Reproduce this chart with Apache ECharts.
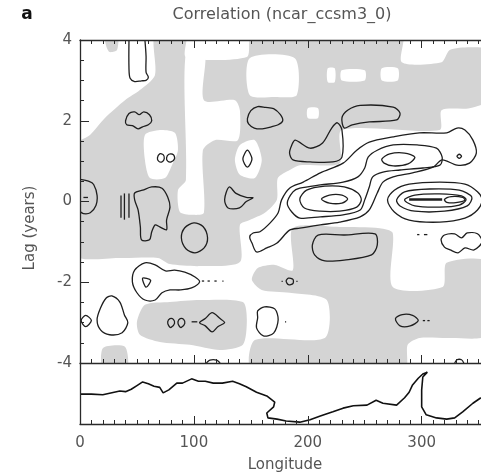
<!DOCTYPE html>
<html><head><meta charset="utf-8">
<script src="https://cdn.jsdelivr.net/npm/echarts@6/dist/echarts.min.js"></script>
<style>html,body{margin:0;padding:0;background:#fff}#c{width:481px;height:475px}</style>
</head><body><div id="c"></div>
<script>
// ---- data ----
const lonTicks = [0, 100, 200, 300];
const lagTicks = [-4, -2, 0, 2, 4];

// shaded (negative correlation) regions, [lon, lag]
const greyRegions = [
  [[22,4.15],[33,4.15],[32.5,3.75],[26,3.7],[23,3.85]],
  [[65.8,4.15],[93,4.15],[93,3.58],[146.5,3.58],[150.9,4.15],[282.5,4.15],[282.5,3.45],[317.5,3.45],[324.6,3.75],[342,3.82],[358,3.75],[358,2.51],[342,2.31],[317.5,2.26],[315.8,1.77],[229.8,1.77],[228,0.95],[193,0.9],[184.2,0.78],[173.7,0.58],[172.8,0.04],[162.3,-0.28],[149,-0.46],[140.4,-0.58],[140.4,-1.5],[105.3,-1.6],[78.9,-1.55],[68.4,-1.4],[35.1,-1.4],[-4,-1.32],[-4,1.4],[8.8,1.65],[21.9,2.07],[39.5,2.51],[52.6,2.76],[65.8,3.13]],
  [[186.8,-0.66],[228,-0.63],[263.2,-0.66],[274.6,-0.78],[274.6,-2.12],[318.4,-2.12],[321.9,-1.52],[358,-1.5],[358,-3.3],[324.6,-3.38],[298.2,-3.38],[287.7,-3.55],[285,-4.15],[150.9,-4.15],[153.5,-3.43],[214.9,-3.38],[216.7,-2.44],[184.2,-2.26],[159.6,-2.19],[150.9,-1.94],[156.1,-1.65],[171,-1.57],[186.8,-1.7]],
  [[50,-2.98],[57,-2.56],[78.9,-2.49],[105.3,-2.44],[143,-2.49],[146.5,-2.93],[143,-3.55],[122.8,-3.68],[96.5,-3.55],[70.2,-3.48],[52.6,-3.3]],
  [[20.2,-3.63],[39.5,-3.6],[41.2,-4.15],[20.2,-4.15]]
];
// unshaded gaps inside shaded regions
const clearRegions = [
  [[93,3.7],[109.6,3.7],[108.8,2.51],[136,2.51],[140.4,2.26],[138.6,1.52],[118.4,1.52],[107.9,1.27],[108.8,-0.28],[98.2,-0.33],[87.7,-0.26],[86,0.28],[93,0.53]],
  [[57,1.65],[70.2,1.77],[83.3,1.7],[86,1.27],[80.7,0.9],[74.6,0.58],[61.4,0.58],[57,1.03]],
  [[140.4,1.4],[153.5,1.52],[159.6,1.03],[153.5,0.58],[140.4,0.66],[136,1.03]],
  [[149,3.55],[188.6,3.55],[190.4,2.64],[171,2.59],[149,2.64]],
  [[217.5,3.3],[223.7,3.3],[223.7,2.96],[217.5,2.96]],
  [[229.8,3.25],[250,3.25],[250,3.0],[229.8,3.0]],
  [[265,3.3],[279,3.3],[279,3.0],[265,3.0]],
  [[200,2.31],[209,2.31],[209,2.07],[200,2.07]]
];
// closed correlation contours
const closedContours = [
  [[40,2.0],[43,2.18],[48,2.22],[52,2.15],[56,2.22],[61,2.15],[63,2.0],[60,1.9],[55,1.85],[51,1.8],[46,1.88],[41,1.9]],
  [[147,2.05],[150,2.25],[156,2.35],[163,2.33],[170,2.3],[176,2.15],[178,2.0],[174,1.9],[168,1.85],[160,1.8],[153,1.82],[148,1.92]],
  [[186,1.40],[189,1.52],[202,1.32],[213,1.45],[221,1.82],[226,1.95],[230,1.77],[230,1.1],[222,0.98],[202,0.98],[187,1.03],[184,1.2]],
  [[235,2.26],[246,2.38],[275,2.34],[281,2.19],[278,2.02],[254,1.97],[239,1.90],[232,1.82],[230,2.07]],
  [[68,1.08],[70,1.18],[73,1.16],[74,1.06],[72,0.98],[69,1.0]],
  [[76,1.08],[78,1.17],[82,1.16],[83,1.06],[80,0.98],[77,1.0]],
  [[143,1.05],[147,1.27],[151,1.05],[147,0.85]],
  [[48,0.21],[55,0.28],[63,0.36],[72,0.33],[77,0.11],[79,-0.14],[76,-0.46],[76,-0.7],[70,-0.63],[66,-0.58],[63,-0.75],[61,-0.95],[54,-0.95],[53,-0.63],[51,-0.21],[48,0.04]],
  [[131,0.36],[137,0.2],[146,0.1],[152,0.09],[146,0.0],[140,-0.16],[130,-0.16],[127,0.05]],
  [[89,-0.9],[92,-0.65],[100,-0.53],[108,-0.62],[112,-0.9],[109,-1.15],[101,-1.27],[93,-1.17]],
  [[149,-0.88],[152,-0.78],[158,-0.75],[167,-0.53],[174,-0.28],[177,0.04],[184,0.33],[196,0.48],[211,0.71],[231,0.95],[243,1.27],[254,1.47],[275,1.6],[298,1.7],[322,1.7],[331,1.82],[338,1.77],[345,1.52],[348,1.2],[342,0.95],[331,0.9],[318,1.03],[310,0.85],[292,0.71],[275,0.61],[266,0.48],[261,0.21],[254,-0.21],[246,-0.38],[228,-0.51],[211,-0.58],[193,-0.66],[184,-0.71],[173,-1.03],[164,-1.15],[155,-1.25],[151,-1.03]],
  [[193,0.33],[211,0.41],[231,0.48],[244,0.61],[250,0.83],[253,1.1],[261,1.27],[275,1.4],[296,1.4],[313,1.32],[318,1.1],[316,0.9],[301,0.83],[281,0.78],[266,0.73],[257,0.61],[254,0.36],[250,0.04],[246,-0.21],[231,-0.33],[211,-0.38],[193,-0.41],[186,-0.26],[182,-0.04],[187,0.24]],
  [[265,1.05],[272,1.18],[285,1.2],[294,1.1],[288,0.93],[275,0.88],[267,0.95]],
  [[193,0.06],[199,0.28],[215,0.38],[232,0.36],[244,0.21],[247,0.04],[243,-0.14],[228,-0.24],[211,-0.24],[197,-0.16]],
  [[212,0.06],[219,0.16],[230,0.16],[235,0.06],[230,-0.04],[219,-0.04]],
  [[270,0.04],[276,0.28],[289,0.43],[316,0.48],[338,0.43],[349,0.24],[353,0.04],[349,-0.21],[338,-0.41],[316,-0.51],[289,-0.46],[276,-0.26]],
  [[278,0.04],[285,0.24],[307,0.31],[333,0.28],[344,0.11],[340,-0.11],[320,-0.24],[294,-0.24],[281,-0.11]],
  [[285,0.04],[294,0.16],[316,0.19],[335,0.14],[339,0.04],[333,-0.09],[316,-0.14],[294,-0.11]],
  [[320,0.05],[326,0.12],[336,0.1],[338,0.03],[330,-0.03],[322,-0.02]],
  [[331,1.12],[333,1.17],[335,1.12],[333,1.07]],
  [[209,-0.83],[232,-0.83],[259,-0.8],[261,-1.08],[256,-1.32],[232,-1.45],[215,-1.47],[206,-1.32],[204,-1.08]],
  [[317,-0.95],[320,-0.83],[329,-0.8],[335,-0.9],[340,-0.78],[349,-0.8],[353,-1.0],[346,-1.2],[338,-1.15],[332,-1.27],[325,-1.2],[320,-1.13]],
  [[181,-1.97],[183,-1.9],[187,-1.93],[187,-2.03],[183,-2.06]],
  [[46,-1.99],[48,-1.7],[57,-1.52],[66,-1.57],[75,-1.72],[83,-1.7],[92,-1.75],[101,-1.87],[105,-1.99],[98,-2.14],[88,-2.19],[79,-2.19],[72,-2.26],[66,-2.44],[57,-2.44],[50,-2.26]],
  [[55,-1.9],[62,-1.95],[58,-2.12]],
  [[28,-2.34],[35,-2.49],[39,-2.81],[42,-3.0],[37,-3.25],[26,-3.3],[18,-3.18],[15,-2.93],[18,-2.64],[23,-2.39]],
  [[1,-2.95],[5,-2.82],[10,-2.95],[5,-3.1]],
  [[77,-2.98],[79,-2.9],[82,-2.92],[83,-3.02],[80,-3.12],[78,-3.08]],
  [[86,-2.98],[88,-2.9],[91,-2.92],[92,-3.02],[89,-3.12],[87,-3.08]],
  [[105,-3.0],[110,-2.9],[116,-2.75],[123,-2.9],[127,-3.0],[121,-3.1],[116,-3.23],[110,-3.08]],
  [[156,-2.71],[162,-2.61],[171,-2.66],[174,-2.93],[170,-3.26],[161,-3.33],[155,-3.13],[156,-2.88]],
  [[277,-2.9],[283,-2.8],[292,-2.82],[297,-2.95],[290,-3.08],[281,-3.08]]
];
// open contour pieces (touching the frame, dashes, dots)
const openContours = [
  [[43,4],[43,3.3],[44,3.05],[48,2.97],[54,2.99],[58,3.0],[60,3.08],[58,3.2],[58,3.6],[57,4]],
  [[0,0.55],[8,0.5],[12,0.42],[15,0.15],[14,-0.1],[9,-0.28],[3,-0.3],[0,-0.25]],
  [[3,0.1],[7,0.1]],
  [[36,0.15],[36,-0.4]], [[39,0.2],[39,-0.45]], [[43,0.2],[43,-0.4]],
  [[107,-1.97],[109,-1.97]], [[112,-1.97],[114,-1.97]], [[118,-1.97],[120,-1.97]], [[125,-1.97],[126,-1.97]],
  [[177,-1.98],[178,-1.98]], [[190,-1.98],[191,-1.98]],
  [[98,-2.98],[103,-2.98]],
  [[180,-2.98],[181,-2.98]],
  [[301,-2.95],[303,-2.95]], [[305,-2.95],[307,-2.95]],
  [[296,-0.82],[298,-0.82]], [[302,-0.82],[305,-0.82]],
  [[111,-4],[114,-3.93],[120,-3.93],[123,-4]],
  [[329,-4],[331,-3.92],[335,-3.92],[337,-4]]
];
const heavyContours = [
  [[289,0.05],[318,0.05]]
];
// bottom panel profile
const profileLon = [0,10,20,25,30,35,40,45,50,55,60,65,70,73,78,85,90,98,104,110,117,125,134,140,146,155,164,171,170,164,165,173,181,193,202,211,222,231,240,252,260,266,278,285,289,292,297,301,305,301,300,300,304,313,322,329,336,345,352];
const profileVal = [49,49,48,50,52,54,53,57,63,69,66,62,60,51,56,67,67,74,70,70,67,67,70,66,61,52,46,36,28,18,10,8,5,3,7,13,20,26,30,31,39,34,31,43,52,64,75,82,85,77,56,28,15,10,8,10,20,34,43];

// ---- chart ----
const GREY = '#d4d4d4';
const AX = '#2a2a2a';
const TXT = '#555';
const FONT = 'DejaVu Sans';

function polySeries(list, kind, z) {
  return {
    type: 'custom', xAxisIndex: 0, yAxisIndex: 0, clip: true, silent: true, z: z,
    data: list.map(p => p[0]),
    renderItem: function (params, api) {
      const pts = list[params.dataIndex].map(p => api.coord(p));
      if (kind === 'grey' || kind === 'clear') {
        return { type: 'polygon', shape: { points: pts, smooth: 0.25 },
          style: { fill: kind === 'grey' ? GREY : '#ffffff', stroke: null } };
      }
      if (kind === 'closed') {
        return { type: 'polygon', shape: { points: pts, smooth: 0.3 },
          style: { fill: null, stroke: '#1e1e1e', lineWidth: 1.3 } };
      }
      return { type: 'polyline', shape: { points: pts, smooth: kind === 'heavy' ? 0 : 0.3 },
        style: { fill: null, stroke: '#1e1e1e', lineWidth: kind === 'heavy' ? 2.6 : 1.3 } };
    }
  };
}

function xAx(grid, pos, labels) {
  return { gridIndex: grid, type: 'value', min: 0, max: 360, interval: 100, position: pos, z: 20,
    axisLine: { show: true, onZero: false, lineStyle: { color: AX, width: 1.3 } },
    axisTick: { show: true, inside: true, length: 8, lineStyle: { color: AX } },
    minorTick: { show: true, splitNumber: 10, length: 4, lineStyle: { color: AX } },
    axisLabel: { show: true, margin: 12, fontSize: 15, fontFamily: FONT, showMaxLabel: false,
        color: labels ? TXT : 'rgba(0,0,0,0)' },
    splitLine: { show: false } };
}

const chart = echarts.init(document.getElementById('c'), null, { renderer: 'canvas' });
chart.setOption({
  animation: false,
  backgroundColor: '#fff',
  grid: [
    { left: 80, top: 40, width: 410, height: 323, containLabel: false, outerBoundsMode: 'none' },
    { left: 80, top: 363, width: 410, height: 61, containLabel: false, outerBoundsMode: 'none' }
  ],
  xAxis: [ xAx(0, 'bottom', false), xAx(0, 'top', false), xAx(1, 'bottom', true) ],
  yAxis: [
    { gridIndex: 0, type: 'value', min: -4, max: 4, interval: 2, z: 20,
      axisLine: { show: true, onZero: false, lineStyle: { color: AX, width: 1.3 } },
      axisTick: { show: true, inside: true, length: 9, lineStyle: { color: AX } },
      minorTick: { show: true, splitNumber: 4, length: 4, lineStyle: { color: AX } },
      axisLabel: { show: true, margin: 8, fontSize: 15, color: TXT, fontFamily: FONT },
      splitLine: { show: false } },
    { gridIndex: 1, type: 'value', min: 0, max: 100, z: 20,
      axisLine: { show: true, onZero: false, lineStyle: { color: AX, width: 1.3 } },
      axisTick: { show: false }, axisLabel: { show: false }, splitLine: { show: false } }
  ],
  graphic: [
    { type: 'text', x: 27, y: 15, style: { text: 'a', font: 'bold 17px "DejaVu Sans"', fill: '#111', align: 'center', verticalAlign: 'middle' } },
    { type: 'text', x: 282, y: 15, style: { text: 'Correlation (ncar_ccsm3_0)', font: '16px "DejaVu Sans"', fill: TXT, align: 'center', verticalAlign: 'middle' } },
    { type: 'text', x: 30, y: 228, rotation: Math.PI / 2, style: { text: 'Lag (years)', font: '15px "DejaVu Sans"', fill: TXT, align: 'center', verticalAlign: 'middle' } },
    { type: 'text', x: 285, y: 465, style: { text: 'Longitude', font: '15px "DejaVu Sans"', fill: TXT, align: 'center', verticalAlign: 'middle' } }
  ],
  series: [
    polySeries(greyRegions, 'grey', 1),
    polySeries(clearRegions, 'clear', 2),
    polySeries(closedContours, 'closed', 3),
    polySeries(openContours, 'open', 3),
    polySeries(heavyContours, 'heavy', 3),
    { type: 'line', xAxisIndex: 2, yAxisIndex: 1, showSymbol: false, silent: true,
      data: profileLon.map((x, i) => [x, profileVal[i]]),
      lineStyle: { color: '#111', width: 1.6 } }
  ]
});
</script></body></html>
